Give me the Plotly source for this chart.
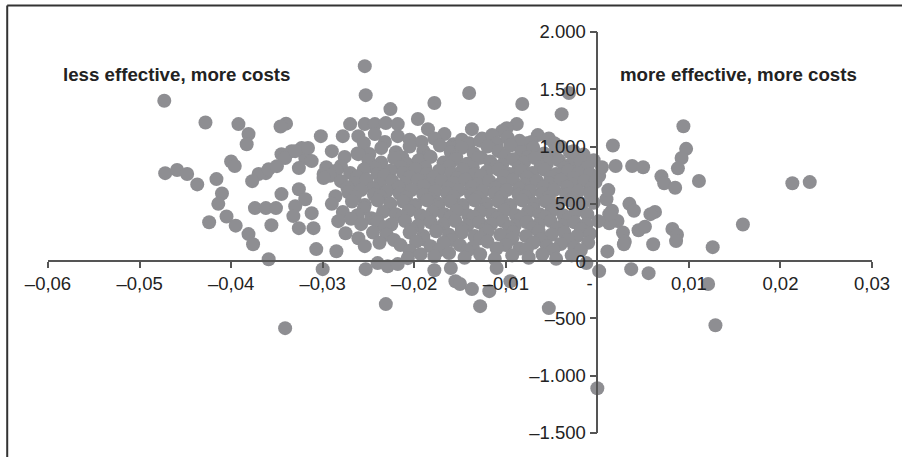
import plotly.graph_objects as go

# Bootstrap replicates of incremental effect (x) and incremental cost (y),
# grouped by area of the cost-effectiveness plane.
left_tail = [
    (-0.0473, 1400), (-0.0472, 768), (-0.0459, 795), (-0.0448, 760), (-0.0437, 670),
    (-0.0428, 1210), (-0.0424, 340), (-0.0416, 716), (-0.0410, 590), (-0.0414, 500),
    (-0.0405, 390), (-0.0395, 310), (-0.0400, 870), (-0.0396, 830), (-0.0392, 1196),
    (-0.0381, 1110), (-0.0383, 1020), (-0.0381, 236), (-0.0376, 148), (-0.0374, 463),
    (-0.0362, 463), (-0.0351, 463), (-0.0356, 314), (-0.0345, 585), (-0.0362, 768),
    (-0.0345, 934), (-0.0334, 960), (-0.0340, 1200), (-0.0346, 1175), (-0.0370, 760),
    (-0.0359, 803), (-0.0341, 900), (-0.0319, 900), (-0.0323, 987), (-0.0330, 960),
]

top_tail = [
    (-0.0254, 1702), (-0.0253, 1449), (-0.0178, 1380), (-0.0140, 1467), (-0.0082, 1371),
    (-0.0039, 1283), (-0.0031, 1467), (-0.0226, 1327), (-0.0270, 1196), (-0.0254, 1196),
    (-0.0243, 1196), (-0.0231, 1205), (-0.0218, 1196), (-0.0196, 1240), (-0.0185, 1152),
    (-0.0088, 1196), (-0.0099, 1161), (-0.0104, 1135), (-0.0137, 1152), (-0.0302, 1091),
    (-0.0278, 1091), (-0.0261, 1091), (-0.0243, 1109), (-0.0218, 1091), (-0.0167, 1109),
    (-0.0157, 1020), (-0.0126, 1070), (-0.0065, 1100), (-0.0053, 1070), (-0.0047, 1030),
    (-0.0077, 1030), (-0.0026, 960), (-0.0161, 990), (-0.0148, 1060), (-0.0115, 1100),
    (-0.0205, 1060), (-0.0192, 1040), (-0.0178, 1070), (-0.0140, 1030), (-0.0128, 1050),
    (-0.0110, 1030), (-0.0098, 1080), (-0.0085, 1050), (-0.0072, 1040), (-0.0040, 1000),
    (-0.0232, 1040), (-0.0255, 1030),
]

core_high = [
    (-0.0316, 987), (-0.0290, 960), (-0.0262, 940), (-0.0236, 987), (-0.0220, 950),
    (-0.0205, 1000), (-0.0190, 960), (-0.0172, 1010), (-0.0160, 950), (-0.0148, 990),
    (-0.0135, 940), (-0.0120, 1000), (-0.0108, 960), (-0.0095, 1010), (-0.0083, 950),
    (-0.0070, 990), (-0.0058, 940), (-0.0045, 980), (-0.0030, 950), (-0.0015, 930),
    (-0.0276, 910), (-0.0249, 935), (-0.0213, 905), (-0.0184, 915), (-0.0154, 910),
    (-0.0127, 905), (-0.0101, 915), (-0.0076, 910), (-0.0051, 905), (-0.0023, 910),
    (-0.0312, 873), (-0.0280, 830), (-0.0261, 934), (-0.0250, 880), (-0.0236, 860),
    (-0.0222, 900), (-0.0208, 850), (-0.0195, 880), (-0.0182, 910), (-0.0168, 860),
    (-0.0155, 890), (-0.0142, 850), (-0.0130, 900), (-0.0117, 870), (-0.0104, 840),
    (-0.0092, 890), (-0.0080, 860), (-0.0068, 900), (-0.0055, 850), (-0.0042, 880),
    (-0.0030, 840), (-0.0018, 870), (-0.0004, 880),
    (-0.0296, 820), (-0.0243, 815), (-0.0215, 820), (-0.0188, 815), (-0.0162, 825),
    (-0.0136, 815), (-0.0111, 820), (-0.0086, 815), (-0.0062, 820), (-0.0036, 815),
    (-0.0011, 820),
    (-0.0350, 829), (-0.0326, 812), (-0.0299, 760), (-0.0285, 790), (-0.0270, 770),
    (-0.0255, 800), (-0.0240, 760), (-0.0226, 790), (-0.0212, 770), (-0.0199, 800),
    (-0.0186, 760), (-0.0173, 790), (-0.0160, 770), (-0.0147, 800), (-0.0134, 760),
    (-0.0121, 780), (-0.0108, 800), (-0.0096, 760), (-0.0083, 790), (-0.0071, 770),
    (-0.0058, 800), (-0.0045, 760), (-0.0032, 790), (-0.0020, 770), (-0.0008, 760),
]

core_mid = [
    (-0.0292, 745), (-0.0262, 740), (-0.0233, 745), (-0.0205, 735), (-0.0179, 730),
    (-0.0153, 725), (-0.0127, 745), (-0.0102, 740), (-0.0077, 735), (-0.0051, 730),
    (-0.0026, 725), (0.0002, 745),
    (-0.0377, 698), (-0.0299, 725), (-0.0280, 698), (-0.0265, 680), (-0.0252, 710),
    (-0.0238, 670), (-0.0224, 700), (-0.0210, 680), (-0.0196, 710), (-0.0183, 670),
    (-0.0170, 700), (-0.0157, 680), (-0.0144, 710), (-0.0131, 670), (-0.0118, 700),
    (-0.0105, 680), (-0.0092, 710), (-0.0079, 670), (-0.0066, 700), (-0.0053, 680),
    (-0.0040, 710), (-0.0027, 670), (-0.0014, 700), (-0.0002, 690),
    (-0.0273, 640), (-0.0245, 635), (-0.0217, 645), (-0.0190, 655), (-0.0163, 635),
    (-0.0137, 645), (-0.0111, 640), (-0.0085, 635), (-0.0059, 645), (-0.0033, 650),
    (-0.0007, 635),
    (-0.0326, 628), (-0.0286, 567), (-0.0272, 600), (-0.0258, 620), (-0.0244, 580),
    (-0.0230, 610), (-0.0216, 590), (-0.0203, 620), (-0.0190, 580), (-0.0177, 610),
    (-0.0164, 590), (-0.0151, 620), (-0.0138, 580), (-0.0125, 610), (-0.0112, 590),
    (-0.0099, 620), (-0.0086, 580), (-0.0073, 610), (-0.0060, 590), (-0.0047, 620),
    (-0.0034, 580), (-0.0021, 610), (-0.0008, 590),
    (-0.0265, 560), (-0.0237, 565), (-0.0209, 555), (-0.0183, 545), (-0.0157, 565),
    (-0.0131, 555), (-0.0105, 560), (-0.0079, 565), (-0.0053, 555), (-0.0027, 545),
    (-0.0319, 540), (-0.0290, 500), (-0.0268, 520), (-0.0254, 490), (-0.0240, 530),
    (-0.0226, 500), (-0.0212, 520), (-0.0199, 490), (-0.0186, 530), (-0.0173, 500),
    (-0.0160, 520), (-0.0147, 490), (-0.0134, 530), (-0.0121, 500), (-0.0108, 520),
    (-0.0095, 490), (-0.0082, 530), (-0.0069, 500), (-0.0056, 520), (-0.0043, 490),
    (-0.0030, 530), (-0.0017, 500), (-0.0004, 510),
    (-0.0255, 460), (-0.0227, 455), (-0.0200, 470), (-0.0174, 465), (-0.0148, 460),
    (-0.0122, 455), (-0.0096, 460), (-0.0070, 455), (-0.0044, 470), (-0.0018, 465),
    (-0.0330, 480), (-0.0332, 393), (-0.0312, 419), (-0.0278, 430), (-0.0262, 400),
    (-0.0247, 375), (-0.0234, 430), (-0.0220, 410), (-0.0206, 440), (-0.0193, 400),
    (-0.0180, 430), (-0.0167, 410), (-0.0154, 440), (-0.0141, 400), (-0.0128, 430),
    (-0.0115, 410), (-0.0102, 440), (-0.0089, 400), (-0.0076, 430), (-0.0063, 410),
    (-0.0050, 440), (-0.0037, 400), (-0.0024, 430), (-0.0011, 410),
]

core_low = [
    (-0.0241, 365), (-0.0213, 385), (-0.0187, 375), (-0.0161, 380), (-0.0135, 385),
    (-0.0109, 375), (-0.0083, 380), (-0.0057, 385), (-0.0031, 375),
    (-0.0310, 288), (-0.0326, 288), (-0.0283, 349), (-0.0269, 370), (-0.0258, 323),
    (-0.0240, 340), (-0.0225, 320), (-0.0210, 350), (-0.0196, 310), (-0.0182, 340),
    (-0.0168, 320), (-0.0155, 350), (-0.0142, 310), (-0.0129, 340), (-0.0116, 320),
    (-0.0103, 350), (-0.0090, 310), (-0.0077, 340), (-0.0064, 320), (-0.0051, 350),
    (-0.0038, 310), (-0.0025, 340), (-0.0012, 320),
    (-0.0232, 295), (-0.0203, 275), (-0.0175, 285), (-0.0148, 280), (-0.0122, 275),
    (-0.0096, 295), (-0.0070, 290), (-0.0044, 285), (-0.0018, 280),
    (-0.0275, 244), (-0.0261, 200), (-0.0245, 250), (-0.0230, 230), (-0.0205, 250),
    (-0.0190, 220), (-0.0176, 260), (-0.0162, 230), (-0.0148, 250), (-0.0134, 220),
    (-0.0120, 260), (-0.0106, 230), (-0.0092, 250), (-0.0078, 220), (-0.0064, 260),
    (-0.0050, 230), (-0.0036, 250), (-0.0022, 220), (-0.0008, 240),
    (-0.0222, 185), (-0.0190, 190), (-0.0159, 185), (-0.0128, 200), (-0.0093, 195),
    (-0.0062, 190), (-0.0032, 185),
    (-0.0307, 105), (-0.0285, 87), (-0.0254, 131), (-0.0238, 160), (-0.0215, 140),
    (-0.0198, 170), (-0.0182, 130), (-0.0168, 160), (-0.0150, 140), (-0.0136, 120),
    (-0.0120, 170), (-0.0100, 140), (-0.0085, 110), (-0.0070, 160), (-0.0055, 130),
    (-0.0040, 150), (-0.0025, 120), (-0.0010, 160),
    (-0.0205, 90), (-0.0173, 95), (-0.0142, 90), (-0.0110, 110), (-0.0077, 105),
    (-0.0048, 100), (-0.0018, 95),
    (-0.0240, -17), (-0.0229, -44), (-0.0218, -26), (-0.0207, 26), (-0.0193, 61),
    (-0.0178, 40), (-0.0162, 70), (-0.0145, 30), (-0.0128, 60), (-0.0112, 20),
    (-0.0093, 50), (-0.0075, 30), (-0.0060, 60), (-0.0045, 20), (-0.0028, 50),
    (-0.0012, -17),
]

bottom_tail = [
    (-0.0359, 17), (-0.0341, -585), (-0.0300, -70), (-0.0253, -70), (-0.0231, -375),
    (-0.0178, -80), (-0.0160, -60), (-0.0155, -175), (-0.0150, -200), (-0.0137, -244),
    (-0.0118, -262), (-0.0110, -60), (-0.0095, -175), (-0.0128, -393), (-0.0053, -410),
    (0.0002, -87), (0.0000, -1109), (0.0037, -70), (0.0056, -105), (0.0121, -200),
    (0.0129, -559),
]

right_side = [
    (0.0017, 1010), (0.0094, 1178), (0.0097, 980), (0.0005, 820), (0.0020, 830),
    (0.0038, 830), (0.0050, 820), (0.0070, 740), (0.0073, 680), (0.0092, 900),
    (0.0088, 810), (0.0085, 640), (0.0063, 430), (0.0058, 410), (0.0035, 500),
    (0.0040, 440), (0.0016, 440), (0.0022, 350), (0.0013, 330), (0.0028, 250),
    (0.0030, 170), (0.0045, 270), (0.0052, 300), (0.0010, 540), (0.0012, 620),
    (0.0082, 280), (0.0087, 230), (0.0061, 148), (0.0086, 175), (0.0011, 85),
    (0.0029, 148), (0.0126, 122), (0.0159, 320), (0.0111, 700), (0.0213, 680),
    (0.0232, 690), (0.0013, 410), (0.0001, 349),
]

x_ticks = [-0.06, -0.05, -0.04, -0.03, -0.02, -0.01, 0.0, 0.01, 0.02, 0.03]
x_tick_text = ["\u20130,06", "\u20130,05", "\u20130,04", "\u20130,03", "\u20130,02",
               "\u20130,01", "-\u00a0\u00a0\u00a0", "0,01", "0,02", "0,03"]
y_ticks = [2000, 1500, 1000, 500, 0, -500, -1000, -1500]
y_tick_text = ["2.000", "1.500", "1.000", "500", "0", "\u2013500", "\u20131.000", "\u20131.500"]

X_RANGE = [-0.06, 0.03]
Y_RANGE = [-1500, 2000]

points = left_tail + top_tail + core_high + core_mid + core_low + bottom_tail + right_side
xs = [p[0] for p in points]
ys = [p[1] for p in points]

DOT = "#8e8e92"
INK = "#222222"
AXIS = "#555555"
FONT = "Liberation Sans, Arial, sans-serif"

fig = go.Figure(go.Scatter(
    x=xs, y=ys, mode="markers",
    marker=dict(size=14, color=DOT, line=dict(width=0)),
    hoverinfo="skip",
))

axis_common = dict(
    showgrid=False, zeroline=False, showline=True,
    linecolor=AXIS, linewidth=1.5,
    ticks="outside", tickcolor=AXIS, tickwidth=1.5,
    tickfont=dict(family=FONT, size=18.5, color=INK),
    layer="above traces",
)

# axes cross at the origin
fig.update_xaxes(
    range=X_RANGE, tickvals=x_ticks, ticktext=x_tick_text, ticklen=6,
    anchor="free", position=(0 - Y_RANGE[0]) / (Y_RANGE[1] - Y_RANGE[0]),
    **axis_common,
)
fig.update_yaxes(
    range=Y_RANGE, tickvals=y_ticks, ticktext=y_tick_text, ticklen=7,
    anchor="free", position=(0 - X_RANGE[0]) / (X_RANGE[1] - X_RANGE[0]),
    ticklabelstandoff=0,
    **axis_common,
)

label_font = dict(family=FONT, size=18.7, color=INK)
fig.add_annotation(x=-0.0460, y=1632, text="<b>less effective, more costs</b>",
                   showarrow=False, font=label_font)
fig.add_annotation(x=0.01545, y=1632, text="<b>more effective, more costs</b>",
                   showarrow=False, font=label_font)

# outer frame
fig.add_shape(type="line", xref="paper", yref="paper",
              x0=-0.0495, x1=-0.0495, y0=-0.1, y1=1.066,
              line=dict(color="#333333", width=2))
fig.add_shape(type="line", xref="paper", yref="paper",
              x0=-0.0495, x1=1.04, y0=1.066, y1=1.066,
              line=dict(color="#333333", width=2))

fig.update_layout(
    width=902, height=457,
    margin=dict(l=48, r=26, t=32, b=24),
    paper_bgcolor="white", plot_bgcolor="white",
    showlegend=False,
)

fig.write_html("out.html")
